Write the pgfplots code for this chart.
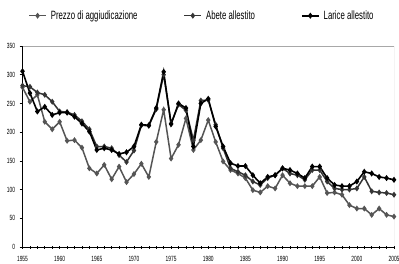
\documentclass[border=0pt]{standalone}
\usepackage{fontspec}
\setmainfont{Liberation Sans}
\usepackage{graphicx}
\usepackage{pgfplots}
\usepackage{pgfplotstable}
\pgfplotsset{compat=1.18}
\definecolor{cPrezzo}{HTML}{555555}
\definecolor{cAbete}{HTML}{353535}
\definecolor{cFrame}{HTML}{A8A8A8}
\newcommand{\nar}[1]{\scalebox{0.65}[1]{#1}}
\pgfplotstableread{
year prezzo abete larice
1955 278 281 306
1956 253 279 268
1957 265 269 236
1958 218 265 244
1959 205 253 230
1960 218 236 234
1961 185 235 234
1962 186 230 227
1963 173 219 215
1964 137 205 201
1965 128 175 169
1966 143 175 172
1967 118 172 169
1968 140 160 162
1969 113 148 165
1970 127 168 175
1971 145 212 213
1972 122 211 212
1973 183 240 242
1974 239 300 305
1975 154 215 214
1976 178 248 250
1977 224 238 242
1978 169 186 175
1979 186 255 250
1980 221 256 258
1981 183 213 210
1982 149 172 175
1983 134 137 146
1984 128 131 141
1985 120 125 141
1986 99 114 125
1987 95 108 111
1988 106 120 122
1989 102 125 125
1990 125 137 137
1991 111 128 134
1992 106 125 128
1993 106 117 120
1994 106 134 140
1995 122 134 140
1996 94 114 120
1997 95 102 108
1998 91 100 106
1999 73 100 106
2000 67 102 114
2001 67 122 131
2002 56 97 128
2003 67 95 122
2004 56 94 120
2005 53 91 117
}\datatable
\begin{document}
\begin{tikzpicture}
\begin{axis}[
  scale only axis,
  width=371.5pt, height=201pt,
  xmin=1955, xmax=2005, ymin=0, ymax=350,
  axis x line*=bottom, axis y line*=left,
  axis line style={black, line width=0.8pt},
  xtick={1955,1960,...,2005},
  minor xtick={1955,1956,...,2005},
  ytick={0,50,...,350},
  /pgf/number format/assume math mode=true,
  xticklabel={\nar{\pgfmathprintnumber[1000 sep={}]{\tick}}},
  yticklabel={\nar{\pgfmathprintnumber{\tick}}},
  x tick label style={font=\fontsize{7.5}{8}\selectfont, yshift=-4pt},
  y tick label style={font=\fontsize{7.5}{8}\selectfont, xshift=-1pt},
  tick style={black, line width=0.6pt},
  xtick align=center,
  ytick align=outside,
  major tick length=3pt, minor tick length=3pt,
  legend style={draw=none, fill=none, at={(0.483,1.0)}, anchor=south, yshift=23pt,
    font=\fontsize{12}{13}\selectfont, column sep=2pt, inner sep=0pt},
  legend columns=3,
  legend image code/.code={\draw[#1] (0pt,0pt) -- (17pt,0pt); \draw[#1, mark repeat=1] plot coordinates {(8.5pt,0pt)};},
  every axis plot/.append style={mark=diamond*, mark size=1.8pt},
]
\draw[cFrame, line width=1pt] (rel axis cs:0,1) -- (rel axis cs:1,1) -- (rel axis cs:1,0);
\addplot[cPrezzo, line width=1.5pt, mark options={fill=cPrezzo, draw=cPrezzo}] table[x=year, y=prezzo] {\datatable};
\addlegendentry{\nar{Prezzo di aggiudicazione}\rule{42pt}{0pt}}
\addplot[cAbete, line width=1.5pt, mark options={fill=cAbete, draw=cAbete}] table[x=year, y=abete] {\datatable};
\addlegendentry{\nar{Abete allestito}\rule{42pt}{0pt}}
\addplot[black, line width=1.6pt, mark options={fill=black, draw=black}] table[x=year, y=larice] {\datatable};
\addlegendentry{\nar{Larice allestito}}
\coordinate (bl) at (rel axis cs:0,0);
\coordinate (tr) at (rel axis cs:1,1);
\end{axis}
\pgfresetboundingbox
\path ([shift={(-22.5pt,-16pt)}]bl) rectangle ([shift={(5pt,46pt)}]tr);
\end{tikzpicture}
\end{document}
